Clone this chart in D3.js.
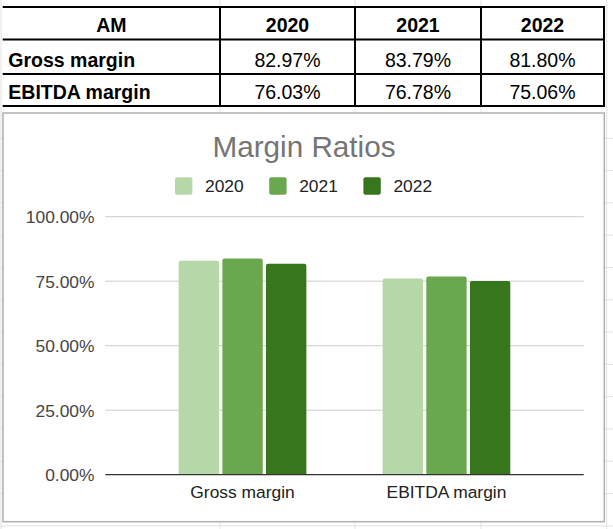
<!DOCTYPE html>
<html><head><meta charset="utf-8">
<script src="https://cdn.jsdelivr.net/npm/d3@7"></script>
<style>
body{margin:0;background:#fff}
svg{display:block}
text{font-family:Arial,"Liberation Sans",sans-serif}
</style>
</head><body>
<svg id="c" width="613" height="529"></svg>
<script>
// ---- data ----
const categories = ["Gross margin", "EBITDA margin"];
const years = ["2020", "2021", "2022"];
const values2020 = [82.97, 76.03];
const values2021 = [83.79, 76.78];
const values2022 = [81.80, 75.06];
const tableCorner = "AM";
const chartTitle = "Margin Ratios";
const yTicks = [0, 25, 50, 75, 100];

const series = [values2020, values2021, values2022];
const colors = ["#b6d7a8", "#6aa84f", "#38761d"];
const pct = d3.format(".2f");

const svg = d3.select("#c");

// ---- spreadsheet background grid ----
const colEdges = [2.7, 220, 355, 481, 604];
const sheetCols = [1, 220, 355, 481, 606.7];
const sheetRows = [];
for (let y = 106 + 32.3; y < 529; y += 32.3) sheetRows.push(y);
const bg = svg.append("g");
bg.selectAll("line.v").data(sheetCols).join("line")
  .attr("x1", d => d).attr("x2", d => d).attr("y1", 0).attr("y2", 529)
  .attr("stroke", "#e2e2e2").attr("stroke-width", 1);
bg.selectAll("line.h").data(sheetRows).join("line")
  .attr("x1", 0).attr("x2", 613).attr("y1", d => d).attr("y2", d => d)
  .attr("stroke", "#e2e2e2").attr("stroke-width", 1);

// ---- table ----
const rowEdges = [7, 39.5, 74, 106];
const tbl = svg.append("g");
const colCenter = i => (colEdges[i] + colEdges[i + 1]) / 2;
// header
tbl.append("text").attr("x", colCenter(0)).attr("y", 32.3).attr("text-anchor", "middle")
  .attr("font-size", 19.5).attr("font-weight", "bold").attr("fill", "#000").text(tableCorner);
tbl.selectAll("text.yh").data(years).join("text").attr("class", "yh")
  .attr("x", (d, i) => colCenter(i + 1)).attr("y", 32.3).attr("text-anchor", "middle")
  .attr("font-size", 19.5).attr("font-weight", "bold").attr("fill", "#000").text(d => d);
const rowBase = [66.7, 99];
categories.forEach((c, r) => {
  tbl.append("text").attr("x", 8.3).attr("y", rowBase[r])
    .attr("font-size", 19.5).attr("font-weight", "bold").attr("fill", "#000").text(c);
  series.forEach((s, i) => {
    tbl.append("text").attr("x", colCenter(i + 1)).attr("y", rowBase[r]).attr("text-anchor", "middle")
      .attr("font-size", 19.5).attr("fill", "#000").text(pct(s[r]) + "%");
  });
});
tbl.selectAll("line.th").data(rowEdges).join("line")
  .attr("x1", colEdges[0]).attr("x2", colEdges[4] + 1).attr("y1", d => d).attr("y2", d => d)
  .attr("stroke", "#000").attr("stroke-width", 2);
tbl.selectAll("line.tv").data(colEdges.slice(1)).join("line")
  .attr("x1", d => d).attr("x2", d => d).attr("y1", rowEdges[0]).attr("y2", rowEdges[3])
  .attr("stroke", "#000").attr("stroke-width", 2);

// ---- chart box ----
svg.append("rect").attr("x", 3).attr("y", 113).attr("width", 601.3).attr("height", 408.7)
  .attr("fill", "#fff").attr("stroke", "#b0b0b0").attr("stroke-width", 1.5);

const plotL = 105.3, plotR = 583.7;
const y = d3.scaleLinear().domain([0, 100]).range([474.7, 216.7]);
const x0 = d3.scaleBand().domain(categories).range([plotL, plotR]).paddingInner(0.374).paddingOuter(0.36);
const x1 = d3.scaleBand().domain(years).range([0, x0.bandwidth()]).paddingInner(0.075);

// title
svg.append("text").attr("x", 304).attr("y", 156.7).attr("text-anchor", "middle")
  .attr("font-size", 29.7).attr("fill", "#757575").text(chartTitle);

// legend
const lg = svg.append("g").selectAll("g").data(years).join("g")
  .attr("transform", (d, i) => `translate(${175 + i * 94.2},0)`);
lg.append("rect").attr("x", 0).attr("y", 177.3).attr("width", 17.4).attr("height", 17.4)
  .attr("rx", 2).attr("fill", (d, i) => colors[i]);
lg.append("text").attr("x", 30).attr("y", 192.3).attr("font-size", 17.4).attr("fill", "#222").text(d => d);

// gridlines
svg.append("g").selectAll("line").data(yTicks.filter(t => t > 0)).join("line")
  .attr("x1", plotL).attr("x2", plotR).attr("y1", d => y(d)).attr("y2", d => y(d))
  .attr("stroke", "#cccccc").attr("stroke-width", 1);

// y tick labels
svg.append("g").selectAll("text").data(yTicks).join("text")
  .attr("x", 94.5).attr("y", d => y(d) + 6.3).attr("text-anchor", "end")
  .attr("font-size", 17.4).attr("fill", "#444").text(d => pct(d) + "%");

// bars
function barPath(bx, by, w, h, r) {
  return `M${bx},${by + h}V${by + r}Q${bx},${by} ${bx + r},${by}H${bx + w - r}Q${bx + w},${by} ${bx + w},${by + r}V${by + h}Z`;
}
const groups = svg.append("g").selectAll("g").data(categories).join("g")
  .attr("transform", d => `translate(${x0(d)},0)`);
groups.selectAll("path").data((c, ci) => years.map((yr, i) => ({ yr, i, v: series[i][ci] }))).join("path")
  .attr("d", d => barPath(x1(d.yr), y(d.v), x1.bandwidth(), y(0) - y(d.v), 2))
  .attr("fill", d => colors[d.i]);

// baseline
svg.append("line").attr("x1", plotL).attr("x2", plotR).attr("y1", y(0)).attr("y2", y(0))
  .attr("stroke", "#333").attr("stroke-width", 1.3);

// category labels
svg.append("g").selectAll("text").data(categories).join("text")
  .attr("x", d => x0(d) + x0.bandwidth() / 2).attr("y", 497.5).attr("text-anchor", "middle")
  .attr("font-size", 17.4).attr("fill", "#222").text(d => d);
</script>
</body></html>
